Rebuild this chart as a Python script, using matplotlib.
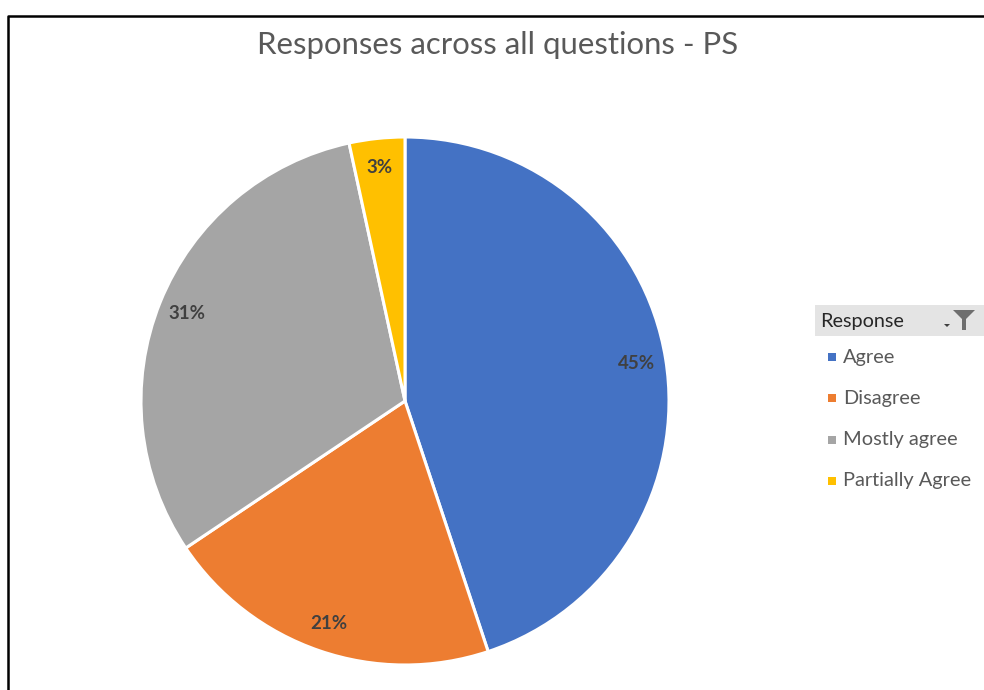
import matplotlib.pyplot as plt
from matplotlib.patches import Rectangle, Polygon
from matplotlib.lines import Line2D

responses = ["Agree", "Disagree", "Mostly agree", "Partially Agree"]
shares = [44.9, 20.7, 31.0, 3.4]
colors = ["#4472C4", "#ED7D31", "#A5A5A5", "#FFC000"]

W, H = 984, 690
fig = plt.figure(figsize=(W / 100, H / 100), dpi=100)
plt.rcParams['font.family'] = ['Lato', 'DejaVu Sans']

def fx(px):
    return px / W

def fy(py):
    return 1 - py / H

# frame of the chart area (cropped on right/bottom)
fig.add_artist(Line2D([fx(8), fx(8), 1], [0, fy(16), fy(16)],
                      color="black", lw=1.8, transform=fig.transFigure))

fig.text(fx(498), fy(45), "Responses across all questions - PS",
         ha="center", va="center", fontsize=22.4, color="#595959")

# pie
cx, cy, r = 405, 401, 264
ax = fig.add_axes([fx(cx - r), fy(cy + r), fx(2 * r), (2 * r) / H])
wedges, texts, autotexts = ax.pie(
    shares, colors=colors, startangle=90, counterclock=False,
    autopct="%.0f%%", pctdistance=0.89,
    wedgeprops=dict(edgecolor="white", linewidth=2.2),
    textprops=dict(color="#404040", fontsize=13.5, fontweight="bold"))
ax.set_aspect("equal")
ax.set_xlim(-1, 1)
ax.set_ylim(-1, 1)
ax.axis("off")

# legend header with filter button
fig.add_artist(Rectangle((fx(815), fy(336)), fx(984 - 815), (336 - 305) / H,
                         facecolor="#E4E4E4", edgecolor="none",
                         transform=fig.transFigure))
fig.text(fx(820), fy(321), "Response", ha="left", va="center",
         fontsize=14.3, color="#262626")
fig.add_artist(Polygon([(fx(953), fy(310)), (fx(975), fy(310)), (fx(966), fy(319)),
                        (fx(966), fy(330)), (fx(962), fy(330)), (fx(962), fy(319))],
                       closed=True, facecolor="#6E6E6E", edgecolor="none",
                       transform=fig.transFigure))
fig.add_artist(Polygon([(fx(944), fy(324)), (fx(950), fy(324)), (fx(947), fy(327))],
                       closed=True, facecolor="#404040", edgecolor="none",
                       transform=fig.transFigure))

# legend entries
for i, (name, col) in enumerate(zip(responses, colors)):
    y = 357 + i * 41.3
    fig.add_artist(Rectangle((fx(828), fy(y + 4)), fx(8), 8 / H,
                             facecolor=col, edgecolor="none",
                             transform=fig.transFigure))
    fig.text(fx(843), fy(y), name, ha="left", va="center",
             fontsize=14.4, color="#595959")

fig.savefig("out.png", dpi=100, facecolor="white")
